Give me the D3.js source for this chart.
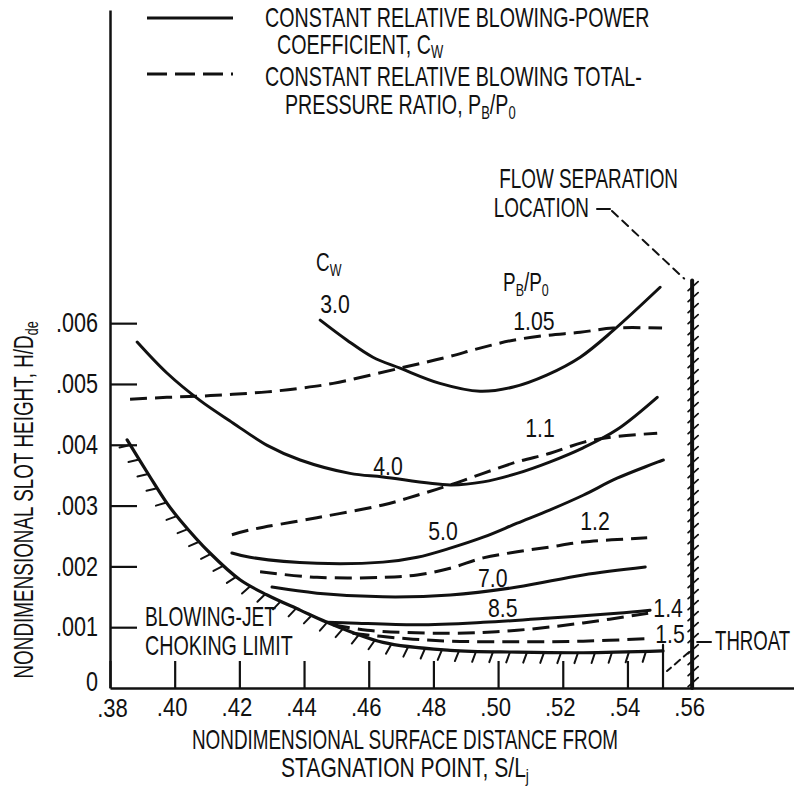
<!DOCTYPE html>
<html><head><meta charset="utf-8">
<script src="https://cdn.jsdelivr.net/npm/d3@7"></script>
<style>
html,body{margin:0;padding:0;background:#fff;}
svg{display:block;background:#fff;}
text{font-family:"Liberation Sans","DejaVu Sans",Arial,sans-serif;fill:#111;}
</style></head><body>
<svg id="chart" width="794" height="790"></svg>
<script>
// ---------- data ----------
const xTicks = [0.38,0.40,0.42,0.44,0.46,0.48,0.50,0.52,0.54,0.56];
const xTickLabels = [".38",".40",".42",".44",".46",".48",".50",".52",".54",".56"];
const yTicks = [0,0.001,0.002,0.003,0.004,0.005,0.006];
const yTickLabels = ["0",".001",".002",".003",".004",".005",".006"];

const cwValues = ["3.0","4.0","5.0","7.0","8.5"];
const pbValues = ["1.05","1.1","1.2","1.4","1.5"];

const cw30 = [[.445,.00605],[.4533,.00572],[.4613,.00544],[.4697,.00526],[.482,.00501],[.4944,.00488],[.5047,.00495],[.5152,.00515],[.5254,.00544],[.5356,.00588],[.5501,.00659]];
const cw40 = [[.3884,.00569],[.3976,.00518],[.4078,.00473],[.418,.00436],[.4286,.00399],[.4388,.00375],[.4542,.00353],[.4644,.00347],[.4852,.00334],[.4954,.00339],[.5059,.00353],[.5161,.00372],[.5263,.00395],[.5368,.00425],[.5492,.00478]];
const cw50 = [[.4177,.00222],[.4233,.00215],[.444,.00205],[.4644,.00207],[.475,.00215],[.4852,.0023],[.4954,.00248],[.5059,.00271],[.5161,.00293],[.5263,.00317],[.5368,.00345],[.5511,.00375]];
const cw70 = [[.4301,.00166],[.444,.00156],[.4644,.0015],[.4852,.00153],[.5059,.00166],[.5263,.00186],[.5455,.00199]];
const cw85 = [[.4471,.00108],[.4542,.00107],[.475,.00104],[.4954,.00108],[.5161,.00115],[.5368,.00123],[.547,.00128]];

const pb105 = [[.3862,.00475],[.3976,.00478],[.4078,.0048],[.418,.00483],[.4286,.00487],[.4388,.00493],[.449,.00501],[.4697,.00526],[.4842,.00544],[.4944,.00559],[.5047,.00572],[.5152,.0058],[.5254,.00585],[.5356,.00592],[.5507,.00592]];
const pb11 = [[.4177,.00252],[.4233,.0026],[.444,.0028],[.4644,.00301],[.475,.00317],[.4852,.00334],[.4954,.00353],[.5059,.00372],[.5161,.00386],[.5263,.00404],[.5356,.00413],[.5492,.00419]];
const pb12 = [[.4264,.00191],[.444,.00182],[.4644,.00182],[.475,.00186],[.4852,.00197],[.4954,.00214],[.5059,.00224],[.5161,.00232],[.5263,.0024],[.5461,.00247]];
const pb14 = [[.449,.00104],[.4595,.00095],[.4852,.0009],[.5059,.00095],[.5263,.00107],[.5464,.00123]];
const pb15 = [[.455,.0009],[.4697,.00082],[.4852,.00077],[.5059,.00076],[.5263,.00077],[.5461,.00081]];

const chokingLimit = [[.3853,.00408],[.3924,.00347],[.3976,.00304],[.4017,.00276],[.4109,.00222],[.4202,.00178],[.4286,.00153],[.4388,.00128],[.4471,.00108],[.4644,.00075],[.4852,.00062],[.5059,.00059],[.5263,.00058],[.551,.00061]];
const throatS = 0.551;
const separationS = 0.56;

// ---------- layout ----------
const svg = d3.select("#chart");
const x = d3.scaleLinear().domain([0.38, 0.5915]).range([110, 794]);
const y = d3.scaleLinear().domain([0, 0.01115]).range([688, 10]);
const FONT = "Liberation Sans, DejaVu Sans, Arial, sans-serif";

function addText(g, px, py, segs, o = {}) {
  const size = o.size || 27, sx = o.sx || 0.728;
  const t = g.append("text")
    .attr("transform", `translate(${px},${py})${o.rot ? ` rotate(${o.rot})` : ""} scale(${sx},1)`)
    .attr("font-size", size)
    .attr("text-anchor", o.anchor || "start");
  if (typeof segs === "string") segs = [{t: segs}];
  let shifted = 0;
  segs.forEach(s => {
    const target = s.sub ? (o.subShift || 5) : 0;
    const ts = t.append("tspan").text(s.t).attr("dy", target - shifted);
    if (s.sub) ts.attr("font-size", size * 0.66);
    shifted = target;
  });
  return t;
}

// axes
const xAxis = d3.axisBottom(x).tickValues(xTicks).tickFormat((d, i) => xTickLabels[i])
  .tickSizeInner(-27).tickSizeOuter(0).tickPadding(9);
const gx = svg.append("g").attr("transform", `translate(0,${y(0)})`).call(xAxis);
gx.select(".domain").attr("stroke", "#111").attr("stroke-width", 2.5);
gx.selectAll(".tick line").attr("stroke", "#111").attr("stroke-width", 2.2);
gx.selectAll(".tick text").attr("font-size", 26).attr("fill", "#111").attr("font-family", FONT)
  .attr("transform", "translate(-3,1) scale(0.85,1)");
gx.selectAll(".tick").filter(d => d === 0.38).select("text").attr("transform", "translate(2,2) scale(0.85,1)");

const yAxis = d3.axisLeft(y).tickValues(yTicks).tickFormat((d, i) => yTickLabels[i])
  .tickSizeInner(-27).tickSizeOuter(0).tickPadding(12);
const gy = svg.append("g").attr("transform", `translate(${x(0.38)},0)`).call(yAxis);
gy.select(".domain").attr("stroke", "#111").attr("stroke-width", 2.5);
gy.selectAll(".tick line").attr("stroke", "#111").attr("stroke-width", 2.2);
gy.selectAll(".tick text").attr("font-size", 27).attr("fill", "#111").attr("font-family", FONT)
  .attr("x", -12 / 0.8).attr("transform", "scale(0.8,1)");
const zeroTick = gy.selectAll(".tick").filter(d => d === 0);
zeroTick.select("line").remove();
zeroTick.select("text").attr("transform", "translate(0,-6) scale(0.8,1)");

// curves
const line = d3.line().x(d => x(d[0])).y(d => y(d[1])).curve(d3.curveCatmullRom.alpha(0.5));
const curves = svg.append("g").attr("fill", "none").attr("stroke", "#111").attr("stroke-linecap", "round");
[cw30, cw40, cw50, cw70, cw85].forEach(c => {
  curves.append("path").attr("d", line(c)).attr("stroke-width", 3);
});
[pb105, pb11, pb12, pb14, pb15].forEach(c => {
  curves.append("path").attr("d", line(c)).attr("stroke-width", 3)
    .attr("stroke-dasharray", "17,8").attr("stroke-linecap", "butt");
});

// choking limit with hatching
const choke = curves.append("path").attr("d", line(chokingLimit)).attr("stroke-width", 3.2);
const node = choke.node();
const L = node.getTotalLength();
const ang = 19 * Math.PI / 180;
for (let l = 6; l < L - 4; l += 17) {
  const p = node.getPointAtLength(l), p2 = node.getPointAtLength(l + 1);
  let tx = p2.x - p.x, ty = p2.y - p.y; const n = Math.hypot(tx, ty); tx /= n; ty /= n;
  const nx = -ty, ny = tx;
  const hx = nx * Math.cos(ang) - ny * Math.sin(ang), hy = nx * Math.sin(ang) + ny * Math.cos(ang);
  curves.append("line").attr("x1", p.x).attr("y1", p.y).attr("x2", p.x + hx * 11).attr("y2", p.y + hy * 11)
    .attr("stroke-width", 2);
}

// throat marker
const throatTop = chokingLimit[chokingLimit.length - 1][1];
curves.append("line").attr("x1", x(throatS)).attr("x2", x(throatS)).attr("y1", y(0)).attr("y2", y(throatTop) - 6).attr("stroke-width", 2.2);

// flow separation wall
const wallTop = 0.0067, wallBottom = 0;
curves.append("line").attr("x1", x(separationS)).attr("x2", x(separationS))
  .attr("y1", y(wallTop)).attr("y2", y(wallBottom)).attr("stroke-width", 4);
for (let py = y(wallTop) + 6; py < y(wallBottom) - 2; py += 11) {
  curves.append("line").attr("x1", x(separationS) - 4).attr("y1", py + 4)
    .attr("x2", x(separationS) + 6).attr("y2", py - 5).attr("stroke-width", 1.8);
}

// leaders
curves.append("line").attr("x1", 597).attr("y1", 209).attr("x2", 610).attr("y2", 209).attr("stroke-width", 2);
curves.append("line").attr("x1", 612).attr("y1", 211).attr("x2", x(separationS) - 8).attr("y2", y(wallTop) - 2)
  .attr("stroke-width", 2).attr("stroke-dasharray", "8,6");
curves.append("line").attr("x1", x(separationS) + 5).attr("y1", 642).attr("x2", 711).attr("y2", 642).attr("stroke-width", 2);
curves.append("line").attr("x1", x(separationS) - 3).attr("y1", 652).attr("x2", x(throatS) + 4).attr("y2", 671)
  .attr("stroke-width", 2).attr("stroke-dasharray", "7,5");

// legend
const lg = svg.append("g");
lg.append("line").attr("x1", 147).attr("x2", 233).attr("y1", 18).attr("y2", 18).attr("stroke", "#111").attr("stroke-width", 3);
lg.append("line").attr("x1", 147).attr("x2", 233).attr("y1", 74).attr("y2", 74).attr("stroke", "#111").attr("stroke-width", 3).attr("stroke-dasharray", "20,8");
addText(lg, 265, 27, "CONSTANT RELATIVE BLOWING-POWER");
addText(lg, 277, 54, [{t: "COEFFICIENT,  C"}, {t: "W", sub: true}], {subShift: 4});
addText(lg, 265, 86, "CONSTANT RELATIVE BLOWING TOTAL-");
addText(lg, 285, 114, [{t: "PRESSURE RATIO,  P"}, {t: "B", sub: true}, {t: "/P"}, {t: "0", sub: true}]);

// curve labels
const lab = svg.append("g");
addText(lab, 316, 271, [{t: "C"}, {t: "W", sub: true}], {size: 26});
addText(lab, 503, 291, [{t: "P"}, {t: "B", sub: true}, {t: "/P"}, {t: "0", sub: true}], {size: 26});
const cwLabelPos = [[.445,.00617],[.4614,.0035],[.4784,.00243],[.4938,.00166],[.4969,.00117]];
const pbLabelPos = [[.5047,.00589],[.5084,.00413],[.5254,.0026],[.548,.00117],[.5486,.00074]];
cwValues.forEach((v, i) => addText(lab, x(cwLabelPos[i][0]), y(cwLabelPos[i][1]), v, {size: 25, sx: 0.85}));
pbValues.forEach((v, i) => addText(lab, x(pbLabelPos[i][0]), y(pbLabelPos[i][1]), v, {size: 25, sx: 0.85}));

addText(lab, 678, 188, "FLOW SEPARATION", {anchor: "end", sx: 0.7});
addText(lab, 589, 217, "LOCATION", {anchor: "end", sx: 0.7});
addText(lab, 145, 626, "BLOWING-JET", {sx: 0.71});
addText(lab, 145, 655, "CHOKING LIMIT", {sx: 0.73});
addText(lab, 715, 650, "THROAT", {sx: 0.69});

// axis titles
addText(svg, 405, 749, "NONDIMENSIONAL SURFACE DISTANCE FROM", {anchor: "middle", sx: 0.70});
addText(svg, 405, 777, [{t: "STAGNATION POINT,  S/L"}, {t: "j", sub: true}], {anchor: "middle", sx: 0.78});
addText(svg, 33, 500, [{t: "NONDIMENSIONAL SLOT HEIGHT,  H/D"}, {t: "de", sub: true}], {anchor: "middle", rot: -90, sx: 0.7});
</script>
</body></html>
